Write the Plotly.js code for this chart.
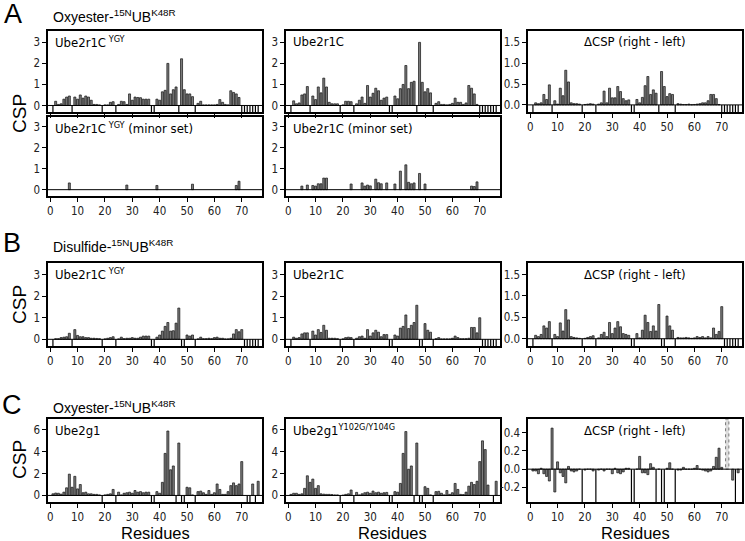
<!DOCTYPE html>
<html><head><meta charset="utf-8">
<script src="https://cdn.plot.ly/plotly-3.0.1.min.js"></script>
<style>html,body{margin:0;padding:0;background:#fff}#chart{width:745px;height:541px}</style>
</head><body><div id="chart"></div>
<script>
// ---------------- DATA ----------------
const residues = [1,2,3,4,5,6,7,8,9,10,11,12,13,14,15,16,17,18,19,20,21,22,23,24,25,26,27,28,29,30,31,32,33,34,35,36,37,38,39,40,41,42,43,44,45,46,47,48,49,50,51,52,53,54,55,56,57,58,59,60,61,62,63,64,65,66,67,68,69,70,71,72,73,74,75,76];
const xTicks = [0,10,20,30,40,50,60,70];

// A: Oxyester-15NUB K48R
const aYGY = [null,0.2,0.05,0.08,0.3,0.4,0.45,null,0.4,0.3,
  0.5,0.35,0.45,0.4,0.25,0.05,0.05,0.03,null,0.03,
  0.03,0.15,0.18,null,0.05,0.2,0.18,0.05,0.55,0.25,
  0.4,0.38,0.37,0.3,0.3,0.3,null,null,0.3,0.25,
  0.65,0.72,2.0,0.55,0.75,0.88,null,2.22,0.75,0.55,
  0.55,0.42,null,0.1,0.2,0.03,0.03,0.03,0.03,0.03,
  0.05,0.28,0.15,0.05,0.03,0.7,0.62,0.55,0.38,null,
  null,null,null,null,null,null];
const aWT = [null,0.22,0.08,0.12,0.5,0.55,0.9,null,0.45,0.28,
  0.88,0.6,1.3,0.88,0.15,0.08,0.08,0.08,null,0.03,
  0.2,0.2,0.18,null,0.08,0.25,0.4,0.1,0.95,0.4,
  0.58,0.82,0.7,0.25,0.35,0.4,null,null,0.45,0.32,
  0.8,1.0,1.9,0.8,1.1,1.15,null,3.0,1.1,0.65,
  0.8,0.6,null,0.1,0.18,0.05,0.05,0.03,0.05,0.1,
  0.35,0.15,0.15,0.05,0.12,0.95,0.82,0.55,0.05,null,
  null,null,null,null,null,null];
const aDiff = [null,0.05,0.03,0.05,0.25,0.13,0.48,null,0.1,0.02,
  0.4,0.22,0.83,0.55,0.05,0.03,0.03,0.02,null,0.01,
  0.02,0.03,0.02,null,0.02,0.05,0.33,0.05,0.4,0.17,
  0.17,0.44,0.32,0.15,0.1,0.12,null,null,0.13,0.05,
  0.18,0.46,0.68,0.25,0.36,0.28,null,0.8,0.44,0.2,
  0.27,0.25,null,0.03,0.02,0.01,0.01,0.02,0.005,0.01,
  0.02,0.03,0.05,0.05,0.1,0.25,0.25,0.15,0.01,null,
  null,null,null,null,null,null];
const aMinorYGYRes = [7,28,39,52,68,69];
const aMinorYGYVal = [0.32,0.22,0.2,0.26,0.2,0.4];
const aMinorWTRes = [5,7,9,10,11,12,13,14,23,27,28,29,30,32,33,34,36,39,41,43,44,45,46,48,50,67,68,69];
const aMinorWTVal = [0.17,0.22,0.2,0.17,0.28,0.28,0.55,0.55,0.27,0.32,0.17,0.22,0.18,0.5,0.33,0.28,0.32,0.27,0.88,1.18,0.35,0.28,0.32,0.77,0.27,0.17,0.15,0.37];

// B: Disulfide-15NUB K48R
const bYGY = [null,0.03,0.03,0.08,0.1,0.12,0.28,null,0.45,0.18,
  0.12,0.12,0.08,0.08,0.05,0.05,0.04,0.03,null,0.02,
  0.05,0.08,0.12,null,0.02,0.1,0.03,0.05,0.05,0.08,
  0.05,0.05,0.1,0.15,0.15,0.15,null,null,0.1,0.2,
  0.38,0.6,0.78,0.38,0.4,0.75,1.45,null,null,0.2,
  0.15,0.2,null,0.02,0.1,0.03,0.03,0.05,0.03,0.08,
  0.1,0.05,0.05,0.02,0.02,0.05,0.25,0.45,0.35,0.45,
  null,null,null,null,null,null];
const bWT = [null,0.1,0.05,0.08,0.25,0.3,0.3,null,0.38,0.2,
  0.45,0.32,0.65,0.42,0.05,0.05,0.05,0.03,null,0.02,
  0.08,0.1,0.08,null,0.05,0.12,0.15,0.05,0.45,0.15,
  0.3,0.42,0.33,0.12,0.22,0.22,null,null,0.2,0.15,
  0.52,0.6,1.13,0.5,0.65,0.78,1.58,null,null,0.73,
  0.42,0.33,null,0.03,0.08,0.02,0.02,0.02,0.02,0.05,
  0.15,0.08,0.03,0.03,0.03,0.05,0.55,0.55,0.3,1.0,
  null,null,null,null,null,null];
const bDiff = [null,0.08,0.05,0.1,0.3,0.25,0.4,null,0.1,0.05,
  0.37,0.18,0.68,0.44,0.05,0.03,0.02,0.01,null,0.01,
  0.03,0.05,0.07,null,0.02,0.1,0.15,0.05,0.38,0.12,
  0.25,0.4,0.28,0.12,0.1,0.08,null,null,0.12,0.02,
  0.2,0.55,0.38,0.17,0.3,0.18,0.8,null,null,0.53,
  0.3,0.2,null,0.03,0.02,0.02,0.03,0.02,0.01,0.02,
  0.05,0.03,0.05,0.02,0.05,0.02,0.25,0.1,0.17,0.75,
  null,null,null,null,null,null];

// C: Oxyester-15NUB K48R with Ube2g1
const cWT = [0.15,0.22,0.2,0.12,0.3,0.7,1.95,0.75,1.75,0.6,
  1.0,0.25,0.3,0.15,0.15,0.1,0.1,0.05,null,0.05,
  0.1,0.15,0.55,null,0.3,0.05,0.2,0.25,0.3,0.2,
  0.45,0.3,0.35,0.25,0.3,0.3,null,null,0.35,0.2,
  1.2,3.85,5.9,2.35,2.7,null,4.8,null,null,0.75,
  0.7,0.05,null,0.35,0.4,0.25,0.1,0.45,0.1,0.25,
  1.05,0.55,0.1,0.1,0.35,0.9,1.15,0.9,1.05,3.1,
  null,null,null,1.05,null,1.3];
const cMut = [0.1,0.2,0.2,0.1,0.15,0.65,1.8,1.2,1.5,0.65,
  0.9,0.15,0.12,0.1,0.1,0.08,0.05,0.05,null,0.03,
  0.1,0.15,0.5,null,0.28,0.05,0.15,0.25,0.3,0.2,
  0.4,0.25,0.3,0.2,0.25,0.28,null,null,0.35,0.3,
  1.1,3.85,5.85,2.4,2.7,null,4.8,null,null,0.8,
  0.65,0.05,null,0.35,0.38,0.2,0.05,0.45,0.1,0.25,
  1.1,0.55,0.1,0.08,0.3,0.85,1.2,1.0,1.3,3.1,
  5.0,4.2,0.95,null,null,1.3];
const cDiff = [-0.02,-0.02,-0.05,0.01,-0.05,-0.08,-0.13,0.45,-0.25,0.08,
  -0.04,-0.08,-0.15,0.03,-0.02,-0.03,-0.02,0.0,null,-0.01,
  0.0,0.0,-0.02,null,-0.01,0.0,-0.02,0.0,0.0,-0.05,
  0.01,-0.04,-0.05,-0.03,0.01,0.01,null,null,0.0,0.14,
  -0.04,-0.04,-0.06,0.06,0.02,null,0.0,null,null,0.01,
  0.07,0.0,null,-0.01,-0.01,0.02,0.0,0.0,0.0,0.01,
  0.04,0.0,-0.01,-0.02,-0.03,-0.02,0.03,0.13,0.23,0.02,
  null,null,null,-0.12,null,-0.04];

// residues without data (drawn as black dividers in the lower strip)
const missingA = [1,8,19,24,37,38,47,53,70,71,72,73,74,75,76];
const missingB = [1,8,19,24,37,38,48,49,53,71,72,73,74,75,76];
const missingC = [19,24,37,38,46,48,49,53,75];
const missingC1Extra = [72,73];
const shadedC = [72];

// ---------------- LAYOUT ----------------
const W = 745, H = 541;
const NARROW = '"Liberation Sans Narrow", "Arial Narrow", "DejaVu Sans Condensed", "Liberation Sans", Arial, sans-serif';
const REG = '"Liberation Sans", Arial, sans-serif';
const cols = [[48,262],[286,500],[528,742]];
const rows = {A1:[31,112], A2:[117,196], B:[263,346], C:[419,502]};
const xRange = [-0.8, 77.4];
const rCSP = [-0.31, 3.54], rA2 = [-0.3, 3.45], rD = [-0.17, 1.77], rC = [-0.6, 7.0], rCD = [-0.36, 0.55];

const panels = [
  {row:'A1', col:0, x:residues, y:aYGY, range:rCSP, tv:[0,1,2,3], showX:false, label:'Ube2r1C<sup> YGY</sup>', missing:missingA},
  {row:'A1', col:1, x:residues, y:aWT, range:rCSP, tv:[0,1,2,3], showX:false, label:'Ube2r1C', missing:missingA},
  {row:'A1', col:2, x:residues, y:aDiff, range:rD, tv:[0,0.5,1,1.5], tt:['0.0','0.5','1.0','1.5'], showX:true, label:'ΔCSP (right - left)', center:true, missing:missingA},
  {row:'A2', col:0, x:aMinorYGYRes, y:aMinorYGYVal, range:rA2, tv:[0,1,2,3], showX:true, label:'Ube2r1C<sup> YGY</sup> (minor set)', missing:[]},
  {row:'A2', col:1, x:aMinorWTRes, y:aMinorWTVal, range:rA2, tv:[0,1,2,3], showX:true, label:'Ube2r1C (minor set)', missing:[]},
  {row:'B', col:0, x:residues, y:bYGY, range:rCSP, tv:[0,1,2,3], showX:true, label:'Ube2r1C<sup> YGY</sup>', missing:missingB},
  {row:'B', col:1, x:residues, y:bWT, range:rCSP, tv:[0,1,2,3], showX:true, label:'Ube2r1C', missing:missingB},
  {row:'B', col:2, x:residues, y:bDiff, range:rD, tv:[0,0.5,1,1.5], tt:['0.0','0.5','1.0','1.5'], showX:true, label:'ΔCSP (right - left)', center:true, missing:missingB},
  {row:'C', col:0, x:residues, y:cWT, range:rC, tv:[0,2,4,6], showX:true, label:'Ube2g1', missing:missingC.concat(missingC1Extra)},
  {row:'C', col:1, x:residues, y:cMut, range:rC, tv:[0,2,4,6], showX:true, label:'Ube2g1<sup>Y102G/Y104G</sup>', missing:missingC},
  {row:'C', col:2, x:residues, y:cDiff, range:rCD, tv:[-0.2,0,0.2,0.4], tt:['-0.2','0.0','0.2','0.4'], showX:true, label:'ΔCSP (right - left)', center:true, missing:missingC, shaded:shadedC}
];

const traces = [], shapes = [], annotations = [];
const layout = {width:W, height:H, margin:{l:0,r:0,t:0,b:0}, paper_bgcolor:'#fff', plot_bgcolor:'#fff',
  showlegend:false, font:{family:NARROW, color:'#000'}, barmode:'overlay'};

panels.forEach((p, i) => {
  const n = i + 1;
  const xa = n === 1 ? 'x' : 'x' + n, ya = n === 1 ? 'y' : 'y' + n;
  const xk = n === 1 ? 'xaxis' : 'xaxis' + n, yk = n === 1 ? 'yaxis' : 'yaxis' + n;
  const [x0, x1] = cols[p.col], [y0, y1] = rows[p.row];
  const common = {showline:true, linewidth:1.6, linecolor:'#000', mirror:true, showgrid:false, zeroline:false,
    ticks:'outside', ticklen:4, tickwidth:1, tickcolor:'#000', fixedrange:true,
    tickfont:{family:NARROW, size:11.5, color:'#222'}};
  layout[xk] = Object.assign({}, common, {domain:[x0/W, x1/W], anchor:ya, range:xRange,
    tickmode:'array', tickvals:xTicks, showticklabels:p.showX});
  layout[yk] = Object.assign({}, common, {domain:[1 - y1/H, 1 - y0/H], anchor:xa, range:p.range,
    tickmode:'array', tickvals:p.tv, ticktext:p.tt || p.tv.map(String)});

  if (p.shaded) p.shaded.forEach(r => shapes.push({type:'rect', layer:'below', xref:xa, yref:ya,
    x0:r - 0.6, x1:r + 0.6, y0:0, y1:p.range[1], fillcolor:'#dcdcdc', line:{color:'#777', width:1, dash:'dot'}}));

  traces.push({type:'bar', x:p.x, y:p.y, xaxis:xa, yaxis:ya, width:0.74, hoverinfo:'skip',
    marker:{color:'#7c7c7c', line:{color:'#111', width:0.7}}});

  shapes.push({type:'line', xref:xa + ' domain', yref:ya, x0:0, x1:1, y0:0, y1:0, line:{color:'#000', width:1}});
  p.missing.forEach(r => shapes.push({type:'line', xref:xa, yref:ya, x0:r, x1:r, y0:p.range[0], y1:0,
    line:{color:'#000', width:1.2}}));

  annotations.push({xref:'paper', yref:'paper', showarrow:false,
    x:(p.center ? (x0 + x1) / 2 : x0 + 5) / W, y:1 - (y0 + 11) / H,
    xanchor:p.center ? 'center' : 'left', yanchor:'middle', text:p.label,
    font:{family:NARROW, size:13, color:'#000'}});
});

function txt(text, xp, yp, size, family, extra) {
  annotations.push(Object.assign({xref:'paper', yref:'paper', showarrow:false, x:xp / W, y:1 - yp / H,
    xanchor:'center', yanchor:'middle', borderpad:0, text:text, font:{family:family, size:size, color:'#000'}}, extra || {}));
}
txt('A', 13, 14, 27, REG);
txt('B', 12, 243, 27, REG);
txt('C', 12, 405, 27, REG);
txt('Oxyester-<sup>15N</sup>UB<sup>K48R</sup>', 52, 16, 14, REG, {xanchor:'left'});
txt('Disulfide-<sup>15N</sup>UB<sup>K48R</sup>', 52, 246, 14, REG, {xanchor:'left'});
txt('Oxyester-<sup>15N</sup>UB<sup>K48R</sup>', 52, 407, 14, REG, {xanchor:'left'});
txt('CSP', 19, 114, 19, REG, {textangle:-90});
txt('CSP', 19, 305, 19, REG, {textangle:-90});
txt('CSP', 19, 460, 19, REG, {textangle:-90});
cols.forEach(c => txt('Residues', (c[0] + c[1]) / 2, 533, 16.5, REG, {yanchor:'middle'}));

layout.shapes = shapes;
layout.annotations = annotations;
Plotly.newPlot('chart', traces, layout, {staticPlot:true, displayModeBar:false});
</script></body></html>
